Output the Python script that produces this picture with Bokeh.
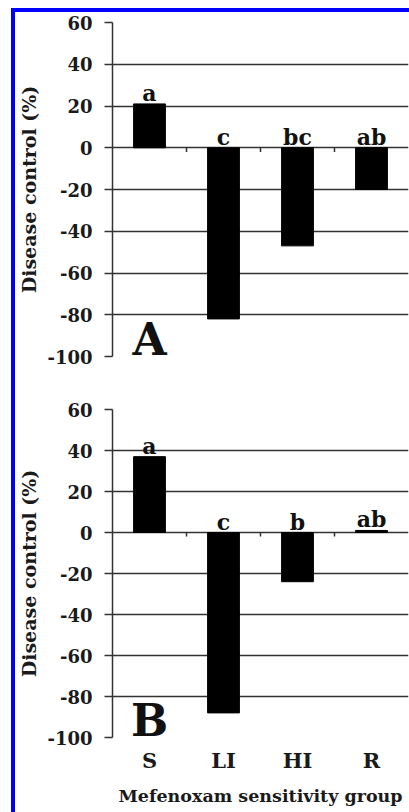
import numpy as np
from bokeh.plotting import figure
from bokeh.models import Range1d, FixedTicker, Label
from bokeh.layouts import column
from bokeh.core.properties import value
from bokeh.embed import file_html
from bokeh.resources import INLINE

# ---- data ----
groups = ["S", "LI", "HI", "R"]
panel_a_values = [21, -82, -47, -20]
panel_b_values = [37, -88, -24, 1]
panel_a_letters = ["a", "c", "bc", "ab"]
panel_b_letters = ["a", "c", "b", "ab"]
y_ticks = [-100, -80, -60, -40, -20, 0, 20, 40, 60]
panel_names = ["A", "B"]
y_title = "Disease control (%)"
x_title = "Mefenoxam sensitivity group"

FONT = "DejaVu Serif"
INK = "#333333"


def make_panel(values, letters, name, height, top_border, bottom_border, show_x):
    n = len(groups)
    xs = np.arange(n) + 0.5
    p = figure(width=394, height=height,
               x_range=Range1d(0, n), y_range=Range1d(y_ticks[0], y_ticks[-1]),
               output_backend="svg", toolbar_location=None,
               min_border_left=96, min_border_right=1,
               min_border_top=top_border, min_border_bottom=bottom_border)
    p.background_fill_color = "white"
    p.border_fill_color = "white"
    p.outline_line_color = None

    # y axis
    p.yaxis.ticker = FixedTicker(ticks=y_ticks)
    p.yaxis.major_label_overrides = {float(t): str(t) for t in y_ticks}
    p.yaxis.axis_line_color = INK
    p.yaxis.axis_line_width = 1.5
    p.yaxis.major_tick_out = 8
    p.yaxis.major_tick_in = 0
    p.yaxis.major_tick_line_color = INK
    p.yaxis.major_tick_line_width = 1.5
    p.yaxis.minor_tick_line_color = None
    p.yaxis.major_label_text_font = FONT
    p.yaxis.major_label_text_font_style = "bold"
    p.yaxis.major_label_text_font_size = "18px"
    p.yaxis.major_label_text_color = "#1a1a1a"
    p.yaxis.major_label_standoff = 12
    p.yaxis.axis_label = y_title
    p.yaxis.axis_label_text_font = FONT
    p.yaxis.axis_label_text_font_style = "bold"
    p.yaxis.axis_label_text_font_size = "19px"
    p.yaxis.axis_label_text_color = "#1a1a1a"
    p.yaxis.axis_label_standoff = 4

    # x axis
    p.xaxis.ticker = FixedTicker(ticks=list(xs))
    p.xaxis.major_label_overrides = {float(x): g for x, g in zip(xs, groups)}
    p.xaxis.axis_line_color = None
    p.xaxis.major_tick_line_color = None
    p.xaxis.major_tick_out = 0
    p.xaxis.major_tick_in = 0
    p.xaxis.minor_tick_line_color = None
    p.xaxis.minor_tick_out = 0
    p.xaxis.major_label_text_font = FONT
    p.xaxis.major_label_text_font_style = "bold"
    p.xaxis.major_label_text_font_size = "21px"
    p.xaxis.major_label_text_color = "#1a1a1a"
    p.xaxis.major_label_standoff = 10
    p.xaxis.axis_label = x_title
    p.xaxis.axis_label_text_font = FONT
    p.xaxis.axis_label_text_font_style = "bold"
    p.xaxis.axis_label_text_font_size = "17.5px"
    p.xaxis.axis_label_text_color = "#1a1a1a"
    p.xaxis.axis_label_standoff = 10
    p.xaxis.visible = show_x

    # grid
    p.xgrid.visible = False
    p.ygrid.ticker = FixedTicker(ticks=y_ticks)
    p.ygrid.grid_line_color = INK
    p.ygrid.grid_line_width = 1.5

    # bars
    p.vbar(x=xs, top=values, bottom=0, width=0.43, fill_color="black", line_color="black")

    # small category tick marks on the zero line
    bnd = np.arange(1, n)
    p.segment(x0=bnd, y0=np.zeros(len(bnd)), x1=bnd, y1=np.full(len(bnd), -2.0),
              line_color=INK, line_width=1.5)

    # significance letters
    p.text(x=xs, y=np.maximum(np.array(values, dtype=float), 0), text=letters,
           text_align="center", text_baseline="bottom", y_offset=2,
           text_font=value(FONT), text_font_style="bold", text_font_size="22px",
           text_color="#111111")

    # panel letter
    p.add_layout(Label(x=xs[0], y=y_ticks[0], text=name, text_align="center",
                       text_baseline="bottom", y_offset=-8, text_font=FONT,
                       text_font_style="bold", text_font_size="44px",
                       text_color="#111111"))
    return p


p1 = make_panel(panel_a_values, panel_a_letters, panel_names[0], 380, 10, 36, False)
p2 = make_panel(panel_b_values, panel_b_letters, panel_names[1], 420, 17, 75, True)

layout = column(p1, p2, spacing=0,
                styles={"border-left": "4px solid #0000ff",
                        "border-top": "4px solid #0000ff",
                        "margin-left": "11px", "margin-top": "8px"})

open("out.html", "w").write(file_html(layout, INLINE))
